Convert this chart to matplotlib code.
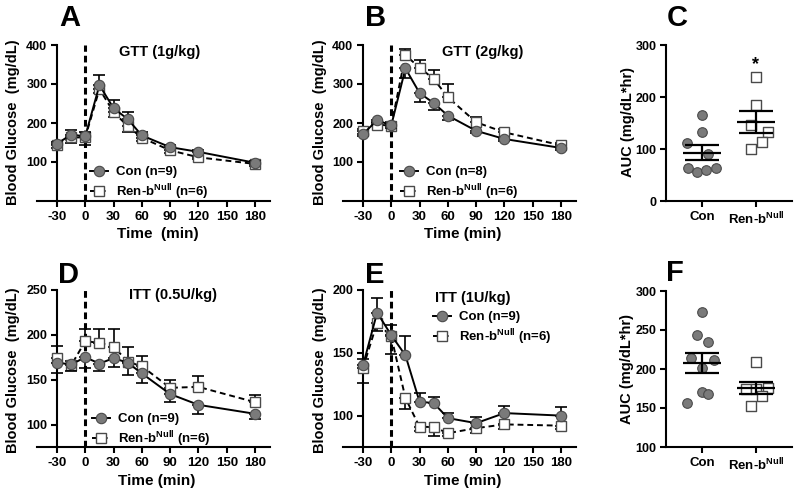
import matplotlib
matplotlib.use('Agg')
import matplotlib.pyplot as plt
import numpy as np

plt.rcParams['font.family'] = ['Liberation Sans', 'DejaVu Sans']
plt.rcParams['font.weight'] = 'bold'
plt.rcParams['axes.unicode_minus'] = False
plt.rcParams['mathtext.fontset'] = 'custom'
plt.rcParams['mathtext.rm'] = 'Liberation Sans:bold'
plt.rcParams['mathtext.bf'] = 'Liberation Sans:bold'
plt.rcParams['mathtext.it'] = 'Liberation Sans:bold'

# ---------------- data ----------------
time_min = [-30, -15, 0, 15, 30, 45, 60, 90, 120, 180]
time_ticks = [-30, 0, 30, 60, 90, 120, 150, 180]

gtt1_con = [147, 170, 166, 297, 238, 210, 168, 138, 126, 98]
gtt1_con_sem = [5, 12, 10, 25, 20, 18, 8, 6, 5, 5]
gtt1_ren = [143, 163, 163, 287, 228, 192, 162, 130, 112, 95]
gtt1_ren_sem = [8, 15, 20, 10, 12, 15, 8, 6, 5, 6]

gtt2_con = [172, 207, 194, 340, 277, 251, 219, 180, 159, 136]
gtt2_con_sem = [5, 5, 8, 25, 22, 17, 11, 5, 5, 5]
gtt2_ren = [179, 196, 193, 374, 342, 313, 266, 202, 176, 143]
gtt2_ren_sem = [5, 5, 10, 17, 20, 23, 34, 14, 8, 5]

itt05_con = [169, 167, 175, 168, 174, 169, 157, 134, 122, 112]
itt05_con_sem = [12, 7, 12, 8, 10, 14, 11, 9, 10, 6]
itt05_ren = [174, 166, 193, 191, 187, 170, 165, 141, 142, 125]
itt05_ren_sem = [14, 5, 13, 16, 20, 17, 11, 9, 12, 8]

itt1_con = [140, 182, 164, 148, 111, 110, 98, 94, 102, 100]
itt1_con_sem = [5, 12, 8, 15, 7, 5, 4, 5, 6, 7]
itt1_ren = [138, 174, 163, 114, 91, 91, 86, 90, 93, 92]
itt1_ren_sem = [12, 7, 14, 9, 3, 7, 2, 4, 4, 3]

groups = ['Con', r'Ren-b$^{\mathregular{Null}}$']
auc_gtt_con = [166, 132, 112, 90, 63, 56, 60, 63]
auc_gtt_ren = [238, 184, 146, 132, 114, 100]
auc_itt_con = [273, 244, 235, 214, 211, 201, 171, 168, 156]
auc_itt_ren = [209, 174, 175, 176, 166, 153]

# layout-only horizontal spread of scatter dots
jit_gtt_con = [0, 0, -0.28, 0.11, -0.26, -0.09, 0.07, 0.25]
jit_gtt_ren = [0.01, 0, -0.1, 0.23, 0.11, -0.1]
jit_itt_con = [0, -0.1, 0.11, -0.21, 0.22, 0, 0, 0.11, -0.28]
jit_itt_ren = [0, -0.19, 0, 0.23, 0.11, -0.1]

# ---------------- figure ----------------
W, H = 800, 497
fig = plt.figure(figsize=(W / 100, H / 100), dpi=100)

CON_FACE = '#7a7a7a'
EDGE = '#4a4a4a'


def add_ax(l, t, r, b):
    return fig.add_axes([l / W, 1 - b / H, (r - l) / W, (b - t) / H])


def style(ax):
    for s in ['top', 'right']:
        ax.spines[s].set_visible(False)
    for s in ['left', 'bottom']:
        ax.spines[s].set_linewidth(1.5)
    ax.tick_params(width=1.5, length=4, pad=3)
    ax.tick_params(axis='x', labelsize=9.5)
    ax.tick_params(axis='y', labelsize=9)
    for lab in ax.get_xticklabels() + ax.get_yticklabels():
        lab.set_fontweight('bold')


def ftext(x, y, s, **kw):
    fig.text(x / W, 1 - y / H, s, ha='center', va='center', fontweight='bold', **kw)


def time_panel(rect, con, con_sem, ren, ren_sem, con_up, ylim, yticks,
               title, title_xy, xlabel, xlabel_xy, ylabel_xy, leg_xy, con_n,
               letter, letter_xy):
    ax = add_ax(*rect)
    t = np.array(time_min)
    con = np.array(con); ren = np.array(ren)
    cs = np.array(con_sem); rs = np.array(ren_sem)
    z = np.zeros_like(cs)
    con_err = [z, cs] if con_up else [cs, z]
    ren_err = [rs, z] if con_up else [z, rs]
    ax.errorbar(t, ren, yerr=ren_err, fmt='none', ecolor='black', elinewidth=1.2,
                capsize=4, capthick=1.2, zorder=2)
    hr, = ax.plot(t, ren, ls=(0, (3, 2)), color='black', lw=1.4, marker='s',
                  markersize=7, markerfacecolor='white', markeredgecolor=EDGE,
                  markeredgewidth=1.0, zorder=3)
    ax.errorbar(t, con, yerr=con_err, fmt='none', ecolor='black', elinewidth=1.2,
                capsize=4, capthick=1.2, zorder=4)
    hc, = ax.plot(t, con, ls='-', color='black', lw=1.4, marker='o',
                  markersize=7.5, markerfacecolor=CON_FACE, markeredgecolor=EDGE,
                  markeredgewidth=0.8, zorder=5)
    ax.axvline(0, color='black', ls=(0, (2.2, 1.3)), lw=2.2, zorder=1)
    ax.set_xlim(-51.2, 195.9)
    ax.set_ylim(*ylim)
    ax.set_yticks(yticks)
    ax.set_xticks(time_ticks)
    ax.spines['left'].set_position(('data', -30))
    style(ax)
    ax.legend([hc, hr], [f'Con (n={con_n})', r'Ren-b$^{\mathregular{Null}}$ (n=6)'],
              loc='upper left', bbox_to_anchor=(leg_xy[0] / W, 1 - leg_xy[1] / H),
              bbox_transform=fig.transFigure, frameon=False, borderaxespad=0,
              borderpad=0, handlelength=1.4, handletextpad=0.6, labelspacing=0.3,
              prop={'size': 9.5, 'weight': 'bold'})
    ftext(*title_xy, title, fontsize=10.5)
    ftext(*xlabel_xy, xlabel, fontsize=11)
    ftext(*ylabel_xy, 'Blood Glucose  (mg/dL)', fontsize=10.5, rotation=90)
    ftext(*letter_xy, letter, fontsize=21)
    return ax


def auc_panel(rect, con, ren, jc, jr, ylim, yticks, ylabel_xy, letter, letter_xy, star=None):
    ax = add_ax(*rect)
    con = np.array(con, float); ren = np.array(ren, float)
    ax.scatter(np.array(jc) + 0, con, s=48, marker='o', facecolor=CON_FACE,
               edgecolor=EDGE, linewidth=0.8, zorder=3)
    ax.scatter(np.array(jr) + 1, ren, s=48, marker='s', facecolor='white',
               edgecolor=EDGE, linewidth=1.0, zorder=3)
    for i, d in enumerate([con, ren]):
        m = d.mean()
        sem = d.std(ddof=1) / np.sqrt(len(d))
        ax.hlines(m, i - 0.35, i + 0.35, color='black', lw=1.6, zorder=4)
        ax.errorbar([i], [m], yerr=[[sem], [sem]], fmt='none', ecolor='black',
                    elinewidth=1.6, capsize=12, capthick=1.6, zorder=4)
    if star is not None:
        ax.text(1, star, '*', ha='center', va='center', fontsize=13, fontweight='bold')
    ax.set_xlim(-0.67, 1.67)
    ax.set_ylim(*ylim)
    ax.set_yticks(yticks)
    ax.set_xticks([0, 1])
    ax.set_xticklabels(groups)
    style(ax)
    ftext(*ylabel_xy, 'AUC (mg/dL*hr)', fontsize=10.5, rotation=90)
    ftext(*letter_xy, letter, fontsize=21)
    return ax


time_panel((37, 45, 270, 201), gtt1_con, gtt1_con_sem, gtt1_ren, gtt1_ren_sem, True,
           (0, 400), [100, 200, 300, 400], 'GTT (1g/kg)', (160, 52), 'Time  (min)',
           (158, 234), (13, 122), (90, 166), 9, 'A', (70, 18))
time_panel((343, 45, 576, 201), gtt2_con, gtt2_con_sem, gtt2_ren, gtt2_ren_sem, False,
           (0, 400), [100, 200, 300, 400], 'GTT (2g/kg)', (483, 52), 'Time (min)',
           (463, 234), (320, 122), (400, 166), 8, 'B', (376, 18))
time_panel((37, 290, 270, 447), itt05_con, itt05_con_sem, itt05_ren, itt05_ren_sem, False,
           (75, 250), [100, 150, 200, 250], 'ITT (0.5U/kg)', (173, 295), 'Time (min)',
           (157, 481), (13, 370), (92, 413), 9, 'D', (68, 275))
time_panel((343, 290, 576, 447), itt1_con, itt1_con_sem, itt1_ren, itt1_ren_sem, True,
           (75, 200), [100, 150, 200], 'ITT (1U/kg)', (473, 298), 'Time (min)',
           (463, 481), (320, 370), (433, 311), 9, 'E', (375, 275))

auc_panel((666, 45, 792, 201), auc_gtt_con, auc_gtt_ren, jit_gtt_con, jit_gtt_ren,
          (0, 300), [0, 100, 200, 300], (628, 122), 'C', (677, 18), star=262)
auc_panel((666, 291, 792, 447), auc_itt_con, auc_itt_ren, jit_itt_con, jit_itt_ren,
          (100, 300), [100, 150, 200, 250, 300], (627, 369), 'F', (675, 273))

fig.savefig('out.png', dpi=100)
